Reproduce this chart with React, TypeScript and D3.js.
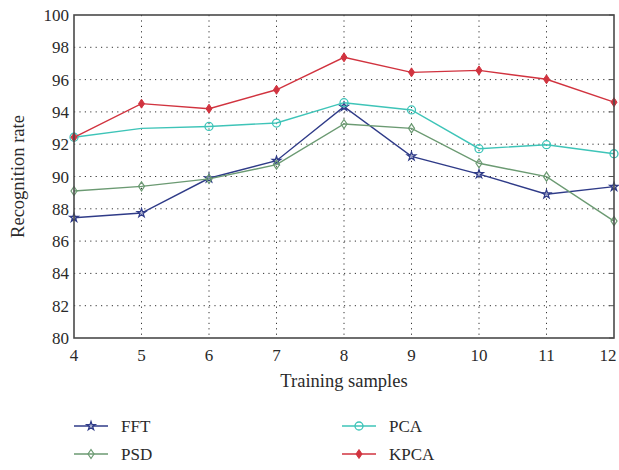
import React from "react";
import * as d3 from "d3";

const xValues = [4, 5, 6, 7, 8, 9, 10, 11, 12];
const yTicks = [80, 82, 84, 86, 88, 90, 92, 94, 96, 98, 100];
const fft = [87.45, 87.74, 89.89, 90.98, 94.32, 91.25, 90.15, 88.9, 89.37];
const psd = [89.1, 89.39, 89.85, 90.73, 93.25, 92.98, 90.82, 89.99, 87.24];
const pca = [92.43, 92.98, 93.1, 93.31, 94.57, 94.12, 91.72, 91.97, 91.41];
const kpca = [92.43, 94.51, 94.2, 95.37, 97.38, 96.45, 96.57, 96.02, 94.6];
const pcaMarkerHidden = [5];

const series = [
  { name: "FFT", values: fft, color: "#2f3b88", marker: "star" },
  { name: "PSD", values: psd, color: "#6b9a72", marker: "diamondOpen" },
  { name: "PCA", values: pca, color: "#3ec4b8", marker: "circle" },
  { name: "KPCA", values: kpca, color: "#d1333f", marker: "diamondFilled" },
];

const W = 619, H = 470;
const L = 74, R = 614, T = 15, B = 338;
const font = "'Liberation Serif', 'DejaVu Serif', serif";

function Marker({ type, x, y, color }: { type: string; x: number; y: number; color: string }) {
  if (type === "star") {
    const p = d3.symbol().type(d3.symbolStar).size(22)();
    return <path d={p || ""} transform={`translate(${x},${y})`} fill="white" fillOpacity={0.5} stroke={color} strokeWidth={1.3} />;
  }
  if (type === "circle") {
    return <circle cx={x} cy={y} r={4} fill="none" stroke={color} strokeWidth={1.3} />;
  }
  if (type === "diamondOpen") {
    return <path d={`M${x},${y - 4.5}L${x + 3},${y}L${x},${y + 4.5}L${x - 3},${y}Z`} fill="none" stroke={color} strokeWidth={1.2} />;
  }
  return <path d={`M${x},${y - 4.5}L${x + 3},${y}L${x},${y + 4.5}L${x - 3},${y}Z`} fill={color} stroke={color} strokeWidth={1} />;
}

export default function App() {
  const x = d3.scaleLinear().domain([4, 12]).range([L, R]);
  const y = d3.scaleLinear().domain([80, 100]).range([B, T]);
  const line = d3.line<number>().x((_, i) => x(xValues[i])).y((v) => y(v));

  const legend = [
    { s: series[0], lx: 74, ly: 426 },
    { s: series[1], lx: 74, ly: 454 },
    { s: series[2], lx: 342, ly: 426 },
    { s: series[3], lx: 342, ly: 454 },
  ];

  return (
    <svg width={W} height={H} style={{ position: "absolute", left: 0, top: 0, background: "white" }} fontFamily={font}>
      <rect x={0} y={0} width={W} height={H} fill="white" />
      {yTicks.slice(1, -1).map((t) => (
        <line key={"gy" + t} x1={L} x2={R} y1={y(t)} y2={y(t)} stroke="#333" strokeWidth={1} strokeDasharray="1.2 4.2" />
      ))}
      {xValues.slice(1, -1).map((t) => (
        <line key={"gx" + t} x1={x(t)} x2={x(t)} y1={T} y2={B} stroke="#333" strokeWidth={1} strokeDasharray="1.2 4.2" />
      ))}
      {yTicks.map((t) => (
        <line key={"rt" + t} x1={R - 5} x2={R} y1={y(t)} y2={y(t)} stroke="#555" strokeWidth={1} />
      ))}
      {series.map((s) => (
        <g key={s.name}>
          <path d={line(s.values) || ""} fill="none" stroke={s.color} strokeWidth={1.4} />
          {s.values.map((v, i) =>
            s.name === "PCA" && pcaMarkerHidden.includes(xValues[i]) ? null : (
              <Marker key={i} type={s.marker} x={x(xValues[i])} y={y(v)} color={s.color} />
            )
          )}
        </g>
      ))}
      <rect x={L} y={T} width={R - L} height={B - T} fill="none" stroke="#4a4a4a" strokeWidth={1.6} />
      {yTicks.map((t) => (
        <text key={"yl" + t} x={L - 5} y={y(t) + 6} textAnchor="end" fontSize={17} fill="#2a2a2a">
          {t}
        </text>
      ))}
      {xValues.map((t) => (
        <text key={"xl" + t} x={Math.min(x(t), 608)} y={B + 23} textAnchor="middle" fontSize={17} fill="#2a2a2a">
          {t}
        </text>
      ))}
      <text x={(L + R) / 2} y={B + 49} textAnchor="middle" fontSize={18.5} fill="#2a2a2a">
        Training samples
      </text>
      <text transform={`translate(24,${(T + B) / 2}) rotate(-90)`} textAnchor="middle" fontSize={18.5} fill="#2a2a2a">
        Recognition rate
      </text>
      {legend.map(({ s, lx, ly }) => (
        <g key={"lg" + s.name}>
          <line x1={lx} x2={lx + 34} y1={ly} y2={ly} stroke={s.color} strokeWidth={1.4} />
          <Marker type={s.marker} x={lx + 17} y={ly} color={s.color} />
          <text x={lx + 47} y={ly + 6} fontSize={17} fill="#2a2a2a">
            {s.name}
          </text>
        </g>
      ))}
    </svg>
  );
}
